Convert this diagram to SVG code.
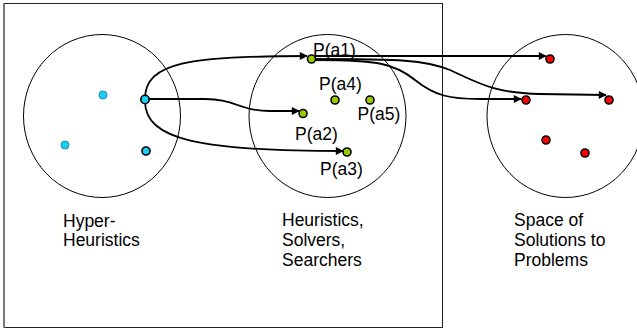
<svg xmlns="http://www.w3.org/2000/svg" width="637" height="330" viewBox="0 0 637 330">
<style>
.lbl{font-family:"Liberation Sans",Arial,sans-serif;font-size:17.5px;fill:#000}
.ring{fill:none;stroke:#000;stroke-width:1}
.c{fill:none;stroke:#000;stroke-width:1.8;marker-end:url(#ah)}
.blue{fill:#1ccdf5;stroke:#000;stroke-width:1.6}
.blue2{fill:#1ccdf5;stroke:#1a8fb0;stroke-width:1}
.green{fill:#99cc00;stroke:#000;stroke-width:1.6}
.red{fill:#ff0000;stroke:#000;stroke-width:1.6}
</style>
<defs>
<marker id="ah" viewBox="0 0 10 10" refX="9" refY="5" markerWidth="9" markerHeight="8" markerUnits="userSpaceOnUse" orient="auto">
<path d="M0,0 L10,5 L0,10 z" fill="#000"/>
</marker>
</defs>
<rect width="637" height="330" fill="#fff"/>
<g id="frame">
<rect x="4" y="3.5" width="438.5" height="324" fill="none" stroke="#222" stroke-width="1"/>
<line x1="4" y1="3.5" x2="4" y2="328" stroke="#777" stroke-width="2"/>
</g>
<g id="hyper-heuristics">
<ellipse class="ring" cx="102" cy="116" rx="78.5" ry="81.5"/>
<circle class="blue2" cx="103" cy="95" r="4"/>
<circle class="blue2" cx="65" cy="145" r="4"/>
<circle class="blue" cx="146" cy="151" r="4"/>
<text class="lbl" x="63" y="227">Hyper-</text>
<text class="lbl" x="63" y="246">Heuristics</text>
</g>
<g id="heuristics">
<ellipse class="ring" cx="327.5" cy="116" rx="78.5" ry="81.5"/>
<text class="lbl" x="282" y="226">Heuristics,</text>
<text class="lbl" x="282" y="246">Solvers,</text>
<text class="lbl" x="282" y="266">Searchers</text>
</g>
<g id="solutions">
<ellipse class="ring" cx="565.5" cy="116" rx="78.5" ry="81.5"/>
<text class="lbl" x="514" y="226">Space of</text>
<text class="lbl" x="514" y="246">Solutions to</text>
<text class="lbl" x="514" y="266">Problems</text>
</g>
<g id="connectors">
<path class="c" d="M145,99 C145,62 190,56 307,56"/>
<path class="c" d="M148,99 L205,99 C235,99 240,111 270,111 L299,111"/>
<path class="c" d="M145,101 C145,140 200,151 343,151"/>
<path class="c" d="M315,56 L546,56"/>
<path class="c" d="M315,60 C380,60 395,64 415,80 C435,96 450,99 480,99 L521,99"/>
<path class="c" d="M315,59 C400,59 425,60 450,70 C480,84 495,93 540,94 L606,95"/>
</g>
<g id="source-dot"><circle class="blue" cx="145" cy="99.5" r="4.2"/></g>
<g id="pa1"><circle class="green" cx="311.5" cy="59" r="4"/><text class="lbl" x="313" y="56">P(a1)</text></g>
<g id="pa2"><circle class="green" cx="303" cy="113.5" r="4"/><text class="lbl" x="295" y="140">P(a2)</text></g>
<g id="pa3"><circle class="green" cx="347" cy="152" r="4"/><text class="lbl" x="320" y="175">P(a3)</text></g>
<g id="pa4"><circle class="green" cx="335" cy="100" r="4"/><text class="lbl" x="319" y="90">P(a4)</text></g>
<g id="pa5"><circle class="green" cx="370" cy="100" r="4"/><text class="lbl" x="357.5" y="120">P(a5)</text></g>
<g id="sol1"><circle class="red" cx="550" cy="59" r="4"/></g>
<g id="sol2"><circle class="red" cx="526" cy="100" r="4"/></g>
<g id="sol3"><circle class="red" cx="609" cy="100" r="4"/></g>
<g id="sol4"><circle class="red" cx="546" cy="140" r="4"/></g>
<g id="sol5"><circle class="red" cx="585" cy="153" r="4"/></g>
</svg>
